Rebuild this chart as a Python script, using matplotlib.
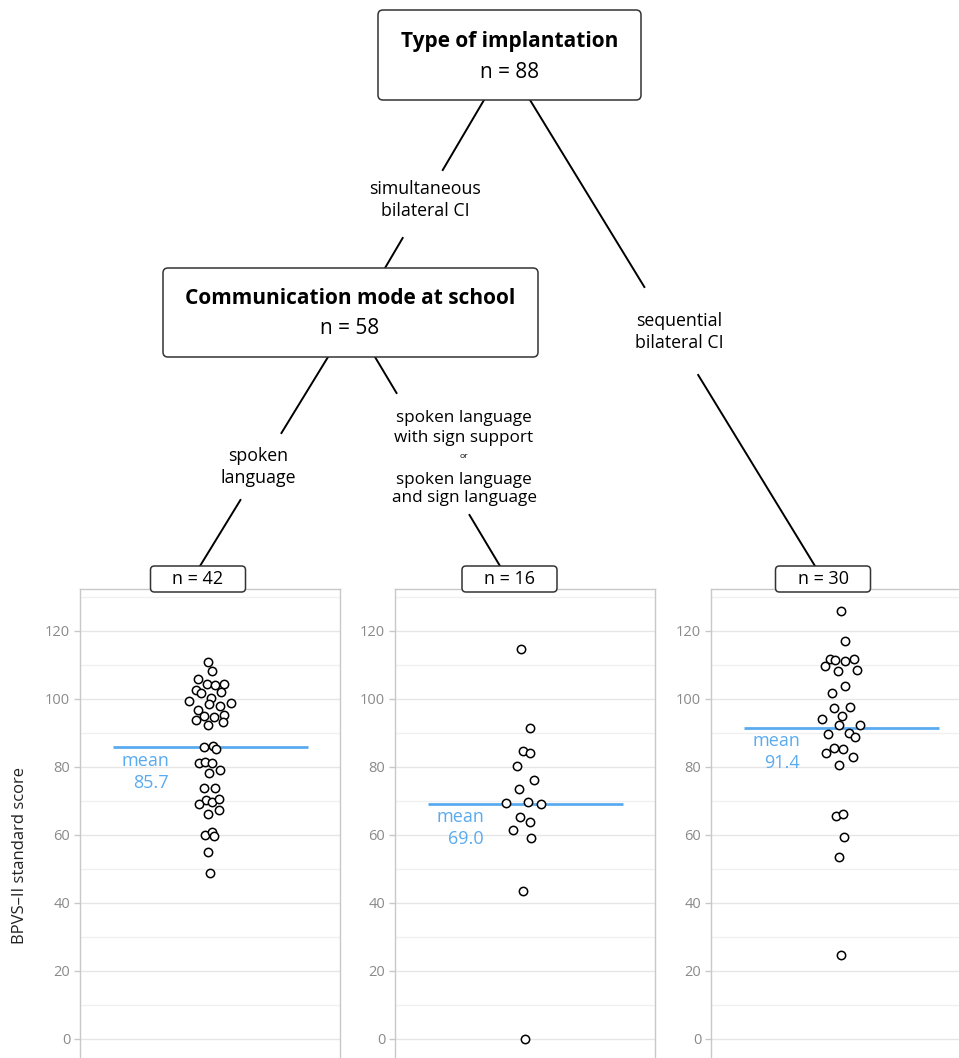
import matplotlib
matplotlib.use('Agg')
import matplotlib.pyplot as plt
from matplotlib.patches import FancyBboxPatch
from matplotlib.ticker import MultipleLocator

plt.rcParams['font.family'] = ['Open Sans', 'DejaVu Sans']

# ---------------- data ----------------
group_labels = ["spoken language", "spoken language with sign support or spoken and sign language",
                "sequential bilateral CI"]
group_n = [42, 16, 30]
group_means = [85.7, 69.0, 91.4]

scores_spoken = [110.9, 108.1, 105.8, 104.3, 104.1, 104.4, 102.6, 101.8, 102.0, 100.2,
                 99.2, 98.4, 98.0, 98.8, 96.8, 94.9, 94.5, 95.2, 93.8, 93.3,
                 92.4, 85.9, 86.1, 85.2, 81.1, 81.3, 81.2, 79.0, 78.3, 73.6,
                 73.8, 70.1, 69.6, 70.5, 68.9, 67.2, 66.2, 59.8, 60.7, 59.5,
                 55.0, 48.7]
jitter_spoken = [-1.7, 2.3, -11.7, -3.3, 5.3, 14, -14, -9.3, 11, 1,
                 -20.7, -1, 9.7, 21, -11.7, -5.7, 3.7, 14, -13.7, 13.3,
                 -2.3, -6.3, 3.3, 6.3, -11, -4.7, 1.7, 10, -1, -6.3,
                 4.7, -4, 2.3, 8.7, -11, 9, -2.3, -5, 2.3, 4.3,
                 -1.7, 0.3]

scores_sign = [114.7, 91.5, 84.5, 84.1, 80.2, 76.1, 73.4, 69.4, 69.7, 68.9,
               65.1, 63.6, 61.4, 59.0, 43.4, 0.0]
jitter_sign = [-4.5, 5.2, -1.8, 4.8, -8.2, 8.5, -6.2, -18.8, 2.8, 16.2,
               -5.2, 4.8, -12.5, 5.5, -2.5, 0.2]

scores_seq = [125.9, 116.9, 111.8, 111.5, 111.2, 111.8, 109.5, 108.1, 108.4, 103.8,
              101.8, 97.4, 97.5, 95.0, 94.1, 92.2, 92.4, 89.5, 89.8, 88.8,
              85.6, 85.2, 84.1, 82.9, 80.5, 65.6, 66.1, 59.4, 53.5, 24.6]
jitter_seq = [-0.2, 3.8, -11.2, -6.2, 3.5, 13.2, -16.5, -3.5, 15.5, 4.2,
              -8.8, -7.2, 9.2, 1.2, -18.8, -2.5, 18.8, -13.5, 7.8, 13.5,
              -6.8, 2.2, -15.2, 11.5, -2.5, -4.8, 1.8, 2.5, -1.8, 0.0]

all_scores = [scores_spoken, scores_sign, scores_seq]
all_jitter = [jitter_spoken, jitter_sign, jitter_seq]

y_ticks = [0, 20, 40, 60, 80, 100, 120]

# ---------------- layout ----------------
W, H = 959, 1058
fig = plt.figure(figsize=(W / 100, H / 100), dpi=100)

BLUE = '#5AAAF0'
GRID = '#e6e6e6'
SPINE = '#c8c8c8'
TICKC = '#8a8a8a'

panel_left = [80, 395, 711]
panel_w = 260
panel_top = 589

for i in range(3):
    ax = fig.add_axes([panel_left[i] / W, 0, panel_w / W, (H - panel_top) / H])
    ax.set_xlim(-130, 130)
    ax.set_ylim(-5.7, 132.3)
    ax.set_xticks([])
    ax.yaxis.set_major_locator(MultipleLocator(20))
    ax.yaxis.set_minor_locator(MultipleLocator(10))
    ax.set_yticks(y_ticks)
    ax.grid(True, which='major', axis='y', color=GRID, lw=1)
    ax.grid(True, which='minor', axis='y', color='#f0f0f0', lw=1)
    ax.set_axisbelow(True)
    ax.tick_params(axis='y', which='major', length=4, width=1, color=SPINE,
                   labelcolor=TICKC, labelsize=10.5, pad=3)
    ax.tick_params(axis='y', which='minor', length=0)
    for s in ['left', 'right', 'top']:
        ax.spines[s].set_color(SPINE)
        ax.spines[s].set_linewidth(1)
    ax.spines['bottom'].set_visible(False)

    m = group_means[i]
    ax.plot([-97.5, 97.5], [m, m], color=BLUE, lw=2, zorder=2, solid_capstyle='butt')
    ax.annotate(f"mean\n{m:.1f}", xy=(-41, m), xytext=(0, -3), textcoords='offset points',
                ha='right', va='top', color=BLUE, fontsize=13, multialignment='right',
                linespacing=1.3)
    ax.scatter(all_jitter[i], all_scores[i], s=36, facecolors='white',
               edgecolors='black', linewidths=1.1, zorder=3, clip_on=False)

fig.text(20 / W, 1 - 855 / H, "BPVS\u2013II standard score", rotation=90,
         ha='center', va='center', fontsize=12, color='#222222')

# ---------------- tree overlay ----------------
at = fig.add_axes([0, 0, 1, 1], zorder=10)
at.set_xlim(0, W)
at.set_ylim(H, 0)
at.axis('off')
at.patch.set_alpha(0)


def box(x0, y0, x1, y1, r=5):
    p = FancyBboxPatch((x0, y0), x1 - x0, y1 - y0,
                       boxstyle=f"round,pad=0,rounding_size={r}",
                       fc='white', ec='#333333', lw=1.1, zorder=5)
    at.add_patch(p)


def broken_line(p0, p1, ygap0, ygap1):
    (x0, y0), (x1, y1) = p0, p1
    def xat(y):
        return x0 + (x1 - x0) * (y - y0) / (y1 - y0)
    at.plot([x0, xat(ygap0)], [y0, ygap0], color='black', lw=1.4, zorder=4)
    at.plot([xat(ygap1), x1], [ygap1, y1], color='black', lw=1.4, zorder=4)


# edges
broken_line((484, 100), (385, 268), 170, 238)
broken_line((530, 100), (815, 566), 287, 375)
broken_line((328, 357), (200, 566), 433, 500)
broken_line((375, 357), (500, 566), 393, 515)

TZ = 7
# main boxes
box(378, 10, 641, 100)
at.text(510, 42, "Type of implantation", ha='center', va='center', fontsize=15,
        fontweight='bold', zorder=TZ)
at.text(510, 72, f"n = {sum(group_n)}", ha='center', va='center', fontsize=15, zorder=TZ)

box(163, 268, 538, 357)
at.text(350, 299, "Communication mode at school", ha='center', va='center', fontsize=15,
        fontweight='bold', zorder=TZ)
at.text(350, 329, f"n = {group_n[0] + group_n[1]}", ha='center', va='center',
        fontsize=15, zorder=TZ)

# edge labels
lab_kw = dict(ha='center', va='center', fontsize=12.8, linespacing=1.25, zorder=TZ)
at.text(425, 200, "simultaneous\nbilateral CI", **lab_kw)
at.text(679, 332, "sequential\nbilateral CI", **lab_kw)
at.text(258, 467, "spoken\nlanguage", **lab_kw)
lab_kw2 = dict(lab_kw, fontsize=12.3)
at.text(464, 428, "spoken language\nwith sign support", **lab_kw2)
at.text(464, 457, "or", ha='center', va='center', fontsize=6, zorder=TZ)
at.text(464, 489, "spoken language\nand sign language", **lab_kw2)

# n boxes
nbox_cx = [198, 509.5, 823]
for cx, n in zip(nbox_cx, group_n):
    box(cx - 47.5, 566, cx + 47.5, 592, r=4)
    at.text(cx, 579.5, f"n = {n}", ha='center', va='center', fontsize=13, zorder=TZ)

fig.savefig('out.png', dpi=100)
